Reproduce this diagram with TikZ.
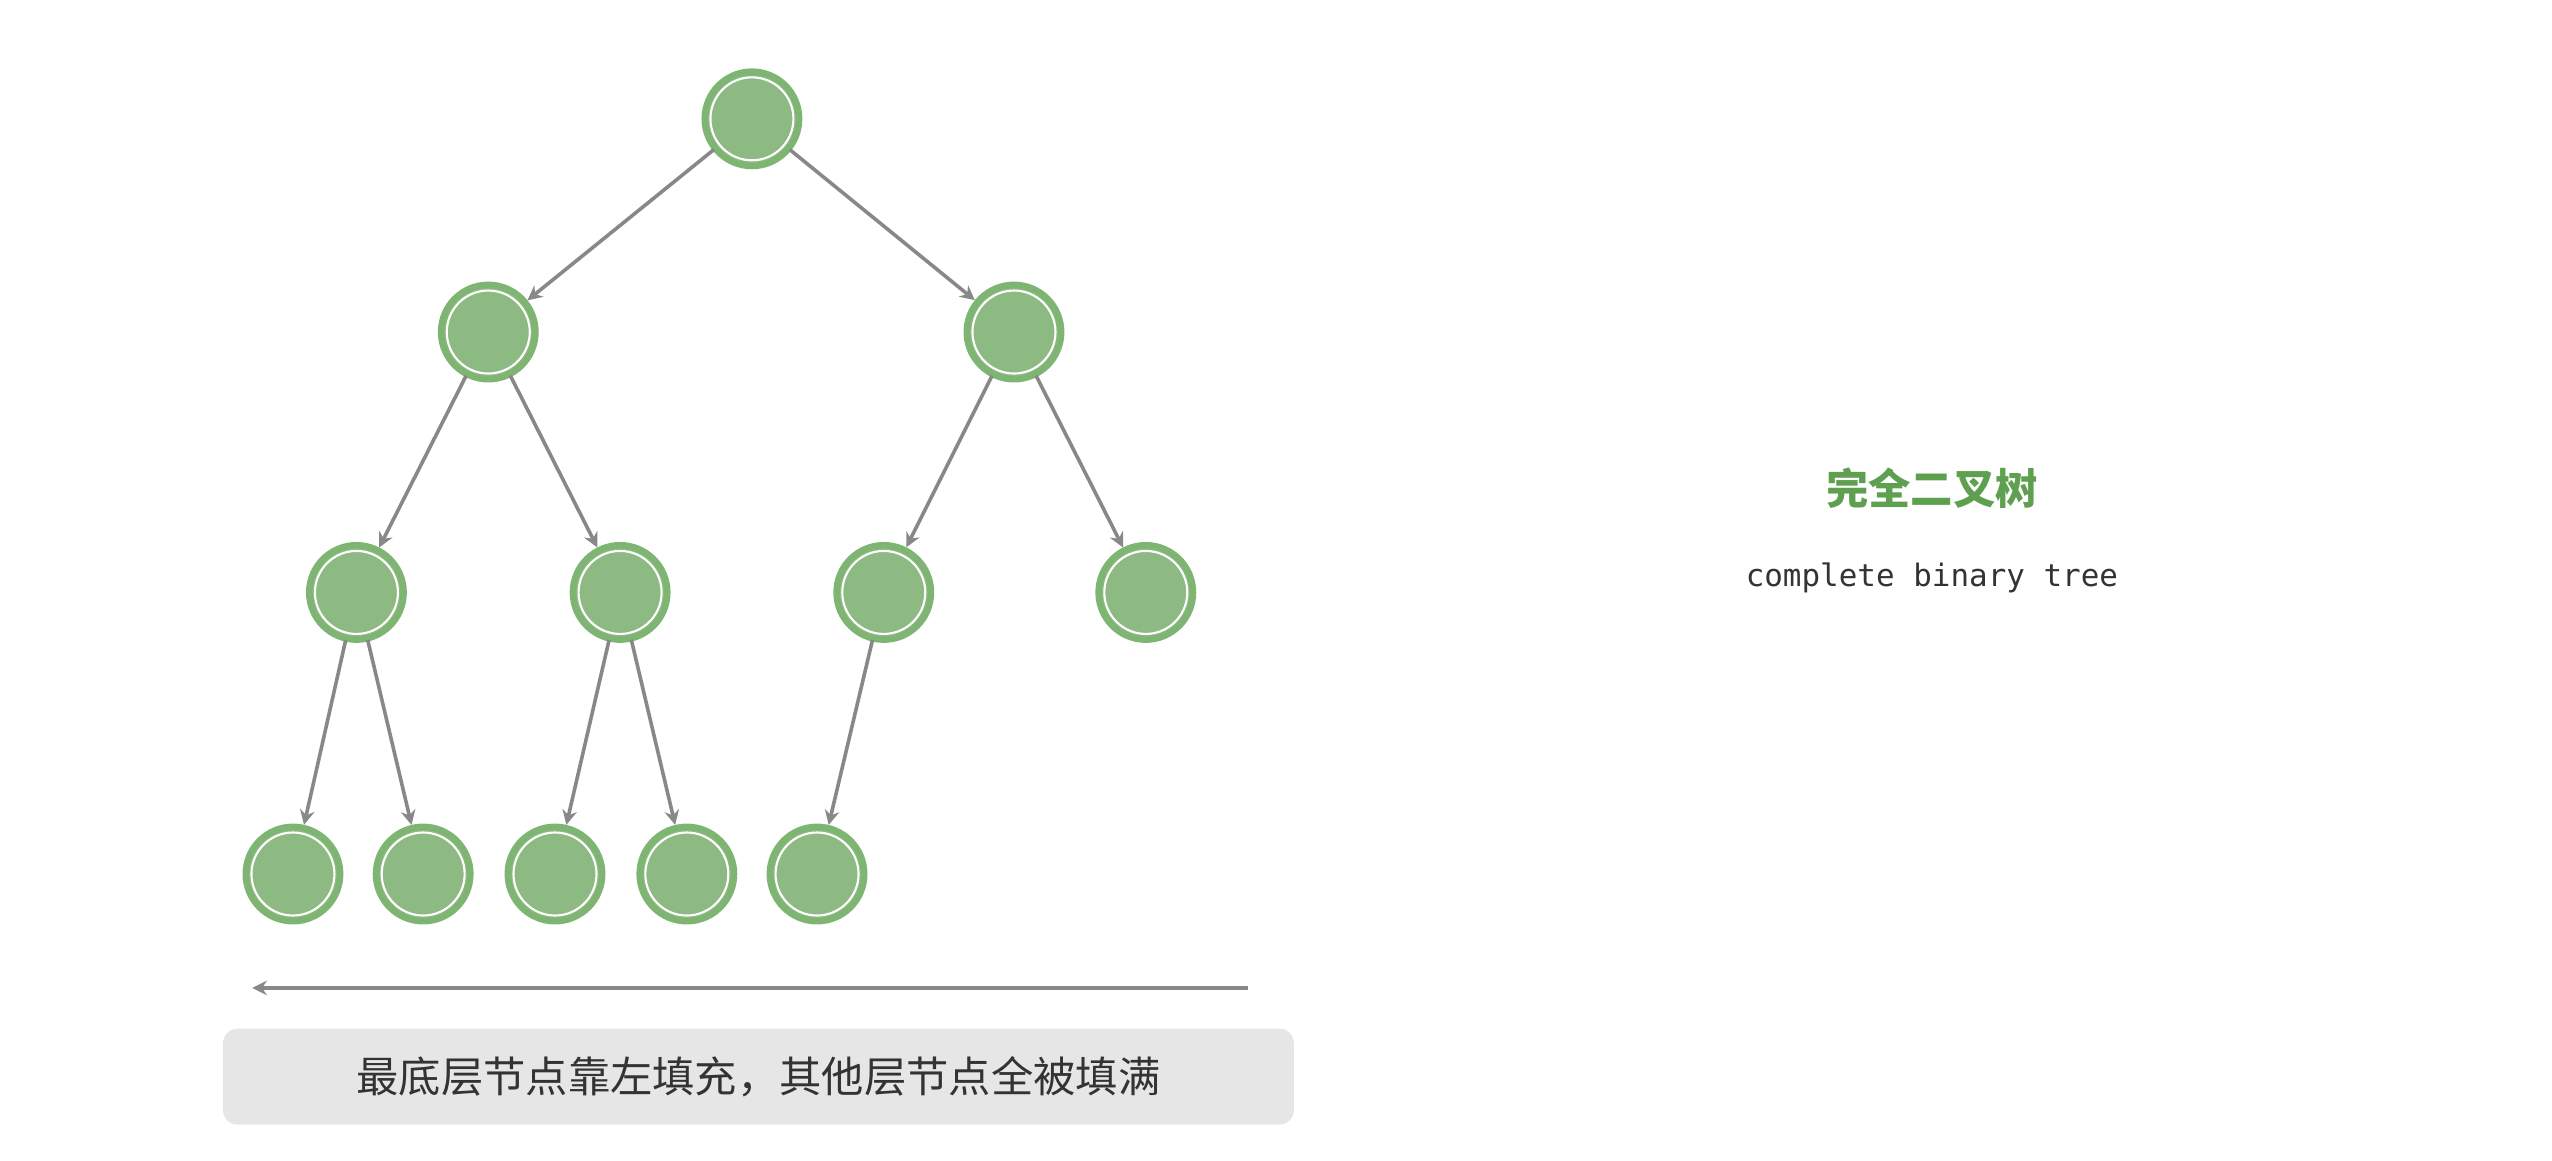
\documentclass[tikz,border=0pt]{standalone}
\usepackage{fontspec}
\setmonofont{DejaVu Sans Mono}
\newfontfamily\cjk{Noto Sans CJK SC}
\usetikzlibrary{arrows.meta}
\definecolor{nodegreen}{HTML}{8DB982}
\definecolor{ringgreen}{HTML}{7FB573}
\definecolor{titlegreen}{HTML}{5E9F50}
\definecolor{edgegray}{HTML}{888888}
\definecolor{boxgray}{HTML}{E6E6E6}
\tikzset{>={Stealth[length=9pt,width=9pt,inset=3pt]}}
\tikzset{
  tnode/.style={circle, minimum size=58pt, inner sep=0pt, fill=nodegreen, draw=ringgreen, line width=2pt,
    double=white, double distance=0pt},
  edge/.style={->, draw=edgegray, line width=2.2pt, shorten >=1pt}
}
\begin{document}
\begin{tikzpicture}[x=1pt, y=-1pt]
  \useasboundingbox (0,0) rectangle (1568,713);

  % tree nodes
  \foreach \name/\x/\y in {r/462/73, a/300/204, b/623/204,
      aa/219/364, ab/381/364, ba/543/364, bb/704/364,
      aaa/180/537, aab/260/537, aba/341/537, abb/422/537, baa/502/537} {
    \node[tnode] (\name) at (\x,\y) {};
    \draw[white, line width=1.3pt] (\x,\y) circle (25.5pt);
  }

  % edges
  \foreach \p/\c in {r/a, r/b, a/aa, a/ab, b/ba, b/bb, aa/aaa, aa/aab, ab/aba, ab/abb, ba/baa}
    \draw[edge] (\p) -- (\c);

  % bottom arrow and note
  \coordinate (arrs) at (767,607);
  \coordinate (arre) at (155,607);
  \draw[->, draw=edgegray, line width=3pt] (arrs) -- (arre);
  \node[fill=boxgray, rounded corners=9pt, minimum width=658pt, minimum height=59pt,
    font=\cjk\fontsize{26}{30}\selectfont, text=black!80] (note) at (466,661.5)
    {最底层节点靠左填充，其他层节点全被填满};

  % title
  \node[font=\cjk\bfseries\fontsize{26}{30}\selectfont, text=titlegreen] (title) at (1187,300) {完全二叉树};
  \node[font=\ttfamily\fontsize{19}{22}\selectfont, text=black!80] (sub) at (1187,355) {complete binary tree};
\end{tikzpicture}
\end{document}
